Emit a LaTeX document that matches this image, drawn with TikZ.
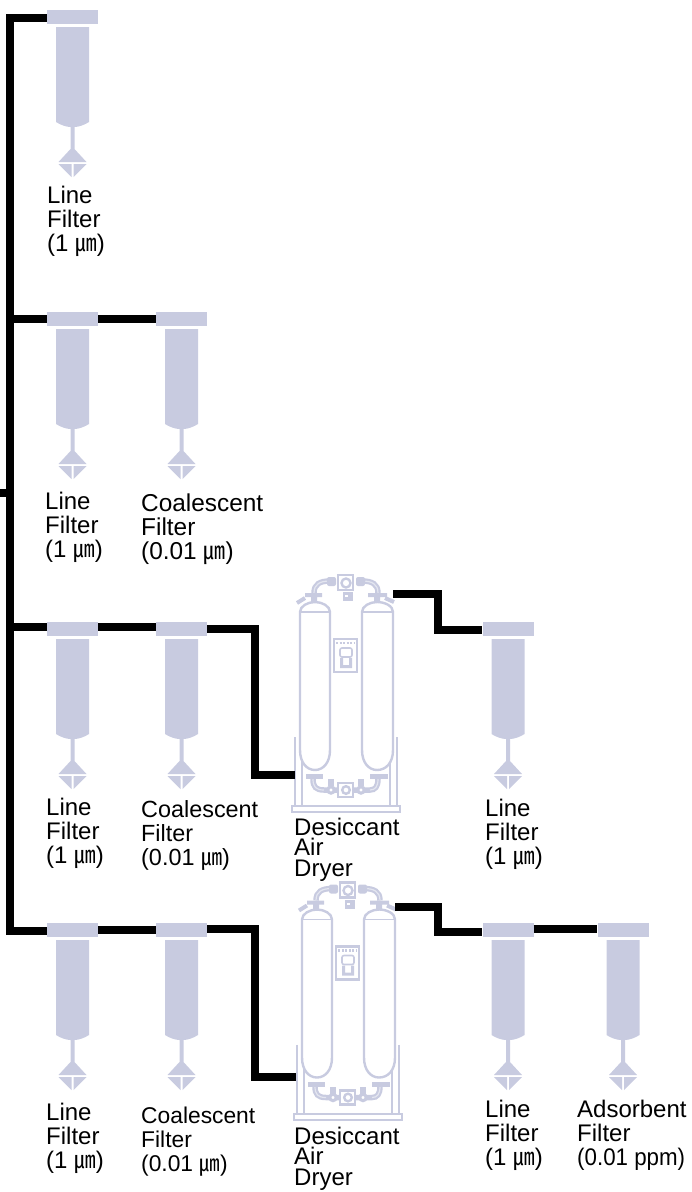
\documentclass[tikz,border=0pt]{standalone}
\usepackage{fontspec}
\setmainfont{Liberation Sans}
\newfontfamily\cjk{Noto Sans CJK KR}
\usetikzlibrary{calc,positioning}
\definecolor{unitblue}{HTML}{C8CBE0}
\definecolor{unitpale}{HTML}{E4E6F0}
\def\um{\scalebox{.9}[1]{\cjk ㎛}}

\tikzset{
  pipeline/.style={line width=8pt,black,line join=miter},
  label text/.style={anchor=base west,inner sep=0pt,align=left,font=\fontsize{#1}{24}\selectfont},
  label text/.default=24,
  dryer text/.style={anchor=base west,inner sep=0pt,align=left,font=\fontsize{24}{20.5}\selectfont},
  unit line/.style={draw=unitblue,line width=2.4pt,fill=none},
  unit pipe/.style={draw=unitblue,line width=5.5pt},
  pipe core/.style={draw=unitpale,line width=1.2pt},
  filterunit/.pic={
    \node[fill=unitblue,minimum width=51pt,minimum height=14pt,inner sep=0pt] (-cap) at (0,7) {};
    \fill[unitblue] (-16.5,17) -- (16.5,17) -- (16.5,112) .. controls (12,115) and (6,117) .. (2,117)
      -- (2,139) -- (14,152) -- (-14,152) -- (-2,139) -- (-2,117)
      .. controls (-6,117) and (-12,115) .. (-16.5,112) -- cycle;
    \fill[unitblue] (-14,154) -- (-1,154) -- (-1,167) -- cycle;
    \fill[unitblue] (14,154) -- (1,154) -- (1,167) -- cycle;
  },
  dryerunit/.pic={
    % stand
    \draw[unit line,line width=1.8pt] (15,177) -- (15,246) (22,177) -- (22,246)
      (110,177) -- (110,246) (117,177) -- (117,246);
    \draw[unit line,line width=2pt] (12,246) rectangle (120,252);
    % tanks
    \draw[unit line,fill=white] (20,190) -- (20,52) .. controls (20,46) and (28,42) .. (35,42)
      .. controls (42,42) and (50,46) .. (50,52) -- (50,190)
      .. controls (50,203) and (43,210) .. (35,210) .. controls (27,210) and (20,203) .. (20,190) -- cycle;
    \draw[unit line,fill=white] (82,190) -- (82,52) .. controls (82,46) and (90,42) .. (97,42)
      .. controls (105,42) and (113,46) .. (113,52) -- (113,190)
      .. controls (113,203) and (106,210) .. (97,210) .. controls (89,210) and (82,203) .. (82,190) -- cycle;
    \draw[unit line,line width=1.4pt] (20,52) -- (50,52) (82,52) -- (113,52);
    % top pipes
    \draw[unit pipe] (34,33) .. controls (34,24) and (40,21) .. (50,21);
    \draw[unit pipe] (98,33) .. controls (98,24) and (92,21) .. (82,21);
    \draw[pipe core] (34,33) .. controls (34,24) and (40,21) .. (50,21);
    \draw[pipe core] (98,33) .. controls (98,24) and (92,21) .. (82,21);
    \fill[unitblue] (25,33) rectangle (42,37) (31,37) rectangle (37,42);
    \fill[unitblue] (88,33) rectangle (107,37) (94,37) rectangle (100,42);
    \fill[unitblue,rounded corners=2pt] (47,17) rectangle (56,26);
    \fill[unitblue,rounded corners=2pt] (76,17) rectangle (85,26);
    \draw[unit line] (58,15) rectangle (73,30);
    \draw[unit line] (66,23) circle (4.5);
    \fill[unitblue] (63,32) rectangle (73,41);
    \fill[white] (65,35) rectangle (68,37);
    \draw[unitblue,line width=4pt] (17,43) -- (25,38);
    \draw[unitblue,line width=4pt] (105,38) -- (114,42);
    % control panel
    \draw[unit line] (54,79) rectangle (77,112);
    \draw[unitblue,line width=2.6pt,dash pattern=on 2pt off 1.5pt] (56,83) -- (75,83);
    \draw[unit line,line width=1.6pt,rounded corners=2pt] (60,88) rectangle (72,97);
    \fill[unitblue] (60,98) rectangle (63,108) (69,98) rectangle (72,108) (60,105) rectangle (72,108);
    % bottom pipes
    \draw[unit pipe] (33,219) .. controls (33,227) and (36,230) .. (44,230) -- (90,230)
      .. controls (95,230) and (98,227) .. (98,219);
    \draw[pipe core] (33,219) .. controls (33,227) and (36,230) .. (44,230);
    \draw[pipe core] (90,230) .. controls (95,230) and (98,227) .. (98,219);
    \fill[unitblue] (26,214) rectangle (43,219);
    \fill[unitblue] (90,214) rectangle (108,219);
    \draw[unit line,fill=white] (58,223) rectangle (73,237);
    \draw[unit line] (66,230) circle (3.8);
    \draw[unit line,line width=3pt,fill=white] (51,230) circle (3.2);
    \draw[unit line,line width=3pt,fill=white] (81,230) circle (3.2);
    \fill[unitblue] (48,219) rectangle (54,226);
    \fill[unitblue] (78,219) rectangle (84,226);
    \coordinate (-in) at (15,215);
    \coordinate (-out) at (113,34);
  }
}

\begin{document}
\begin{tikzpicture}[x=1pt,y=-1pt]
\useasboundingbox (0,0) rectangle (692,1192);

\coordinate (inlet) at (0,493);
\coordinate (trunk) at (10,931);
\coordinate (bend three) at (255,629);
\coordinate (bend four) at (255,929);
\coordinate (rise three) at (438,594);
\coordinate (rise four) at (438,907);
\coordinate (foot four) at (296,1077);

\pic (dryA) at (280,560) {dryerunit};
\pic (dryB) at (282,867.5) {dryerunit};

\pic (fa) at (72.5,10) {filterunit};
\pic (fb) at (72.5,312) {filterunit};
\pic (fc) at (181.5,312) {filterunit};
\pic (fd) at (72.5,622) {filterunit};
\pic (fe) at (181.5,622) {filterunit};
\pic (ff) at (508,622) {filterunit};
\pic (fg) at (72.5,923) {filterunit};
\pic (fh) at (181.5,923) {filterunit};
\pic (fi) at (508,923) {filterunit};
\pic (fj) at (623,923) {filterunit};

% trunk and rows
\draw[pipeline] (inlet) -- (inlet -| trunk);
\draw[pipeline] ([yshift=-1pt]fa-cap.west) -| (trunk) -- (fg-cap.west |- trunk);
\draw[pipeline] (fb-cap.west) -- (fb-cap.west -| trunk);
\draw[pipeline] ([yshift=2pt]fd-cap.west) -- ([yshift=2pt]fd-cap.west -| trunk);
\draw[pipeline] (fb-cap.east) -- (fc-cap.west);
\draw[pipeline] ([yshift=2pt]fd-cap.east) -- ([yshift=2pt]fe-cap.west);
\draw[pipeline] (fg-cap.east) -- (fh-cap.west);
\draw[pipeline] (fi-cap.east |- bend four) -- (fj-cap.west |- bend four);

\draw[pipeline] (fe-cap.east) -- (bend three) |- (dryA-in);
\draw[pipeline] (fh-cap.east |- bend four) -- (bend four) |- (foot four);
\draw[pipeline] (dryA-out) -- (rise three) |- ([yshift=-1pt]ff-cap.west);
\draw[pipeline] (dryB-out |- rise four) -- (rise four) |- ([yshift=-2pt]fi-cap.west);

% labels
\node[label text] (la) at (47,251) {Line\\Filter\\(1 \um)};
\node[label text] (lb) at (45,557) {Line\\Filter\\(1 \um)};
\node[label text=24.4] (lc) at (141,559) {Coalescent\\Filter\\(0.01 \um)};
\node[label text] (ld) at (46,863) {Line\\Filter\\(1 \um)};
\node[label text=23.4] (le) at (141,865) {Coalescent\\Filter\\(0.01 \um)};
\node[dryer text] (lf) at (294,876) {Desiccant\\Air\\Dryer};
\node[label text] (lg) at (485,864) {Line\\Filter\\(1 \um)};
\node[label text] (lh) at (46,1168) {Line\\Filter\\(1 \um)};
\node[label text=22.8] (li) at (141,1171) {Coalescent\\Filter\\(0.01 \um)};
\node[dryer text] (lj) at (294,1185) {Desiccant\\Air\\Dryer};
\node[label text] (lk) at (485,1165) {Line\\Filter\\(1 \um)};
\node[label text] (ll) at (577,1165) {Adsorbent\\Filter\\\scalebox{.93}[1]{(0.01 ppm)}};

\end{tikzpicture}
\end{document}
